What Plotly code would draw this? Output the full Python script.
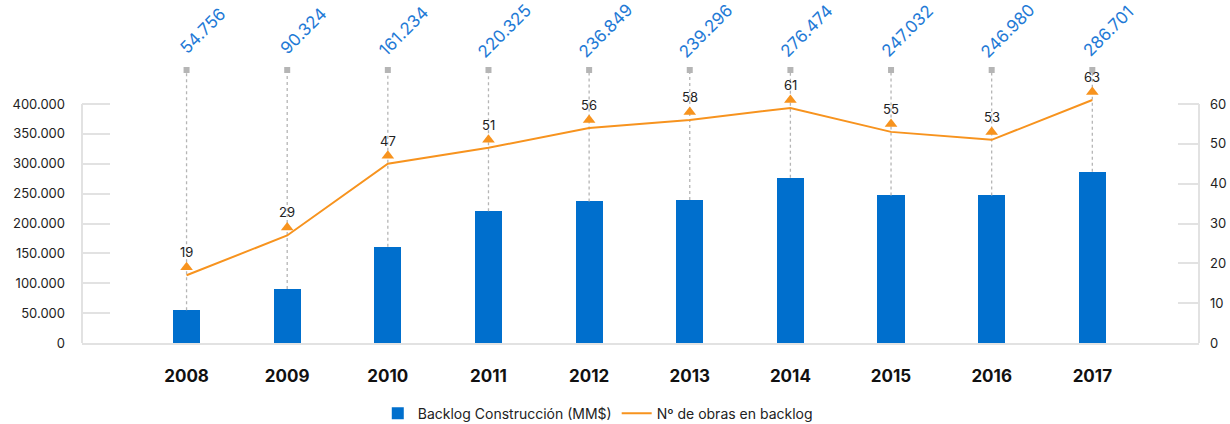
import plotly.graph_objects as go

# Data
years = ["2008", "2009", "2010", "2011", "2012", "2013", "2014", "2015", "2016", "2017"]
backlog = [54756, 90324, 161234, 220325, 236849, 239296, 276474, 247032, 246980, 286701]
obras = [19, 29, 47, 51, 56, 58, 61, 55, 53, 63]

left_ticks = [0, 50000, 100000, 150000, 200000, 250000, 300000, 350000, 400000]
right_ticks = [0, 10, 20, 30, 40, 50, 60]

# Styling
BLUE = "#006fcd"
LABEL_BLUE = "#1f7ad6"
ORANGE = "#f7931e"
GRID = "#e2e2e2"
DOT = "#b5b5b5"
FONT = "Inter"

# Plot area extends above the 400.000 gridline to hold the leader lines
TOP_PAD = 273 / 239
ymax_left = left_ticks[-1] * TOP_PAD
ymax_right = right_ticks[-1] * TOP_PAD
LINE_OFFSET = 2  # line sits slightly under its triangle markers

fmt = lambda v: f"{v:,}".replace(",", ".")

fig = go.Figure()

fig.add_trace(go.Bar(
    x=years, y=backlog, name="Backlog Construcción (MM$)",
    marker=dict(color=BLUE, line=dict(width=0)), width=0.27,
))

# dotted leader lines from each bar up to the value label
lx, ly = [], []
for yr, v in zip(years, backlog):
    lx += [yr, yr, None]
    ly += [v, ymax_left, None]
fig.add_trace(go.Scatter(
    x=lx, y=ly, mode="lines", showlegend=False, hoverinfo="skip",
    line=dict(color=DOT, width=1.3, dash="dot"),
))
fig.add_trace(go.Scatter(
    x=years, y=[ymax_left] * len(years), mode="markers", showlegend=False,
    hoverinfo="skip", cliponaxis=False,
    marker=dict(symbol="square", size=6, color=DOT),
))

fig.add_trace(go.Scatter(
    x=years, y=obras, name="Nº de obras en backlog", mode="lines",
    line=dict(color=ORANGE, width=2), yaxis="y3",
))
fig.add_trace(go.Scatter(
    x=years, y=obras, mode="markers", showlegend=False, yaxis="y2",
    marker=dict(symbol="triangle-up", size=11, color=ORANGE), cliponaxis=False,
))

# count labels just above each triangle
for i, o in enumerate(obras):
    fig.add_annotation(
        x=i, y=o, xref="x", yref="y2", text=str(o), showarrow=False,
        xanchor="center", yanchor="middle", yshift=15,
        font=dict(family=FONT, size=13, color="#222"),
    )

# rotated value labels; category axes take the category index here
for i, v in enumerate(backlog):
    fig.add_annotation(
        x=i, y=1, xref="x", yref="paper", text=fmt(v), showarrow=False,
        textangle=-45, xanchor="center", yanchor="middle",
        xshift=16, yshift=39,
        font=dict(family=FONT, size=17, color=LABEL_BLUE),
    )

# axis lines stop at the top gridline
fig.add_shape(type="line", xref="x domain", yref="y", x0=0, x1=0, y0=0,
              y1=left_ticks[-1], line=dict(color=GRID, width=2), layer="below")
fig.add_shape(type="line", xref="x domain", yref="y", x0=1, x1=1, y0=0,
              y1=left_ticks[-1], line=dict(color=GRID, width=2), layer="below")

fig.update_layout(
    width=1230, height=424,
    margin=dict(l=82, r=31, t=70, b=81, autoexpand=False),
    paper_bgcolor="white", plot_bgcolor="white",
    separators=",.",
    font=dict(family=FONT, color="#222"),
    bargap=0,
    xaxis=dict(
        type="category", range=[-1.039, 10.06], showgrid=False,
        showline=True, linecolor=GRID, linewidth=2, ticks="",
        tickfont=dict(family=FONT, size=17, color="#111", weight="bold"),
        ticklabelstandoff=17,
    ),
    yaxis=dict(
        range=[0, ymax_left], tickvals=left_ticks, tickformat=",d",
        showgrid=False, zeroline=False, showline=False,
        ticks="inside", ticklen=28, tickwidth=2, tickcolor=GRID,
        tickfont=dict(family=FONT, size=13, color="#222"),
        ticklabelstandoff=16,
    ),
    yaxis2=dict(
        overlaying="y", side="right", range=[0, ymax_right], tickvals=right_ticks,
        showgrid=False, zeroline=False, showline=False,
        ticks="inside", ticklen=21, tickwidth=2, tickcolor=GRID,
        tickfont=dict(family=FONT, size=13, color="#222"),
        ticklabelstandoff=10,
    ),
    yaxis3=dict(
        overlaying="y", range=[LINE_OFFSET, ymax_right + LINE_OFFSET],
        visible=False,
    ),
    legend=dict(
        orientation="h", xref="container", yref="paper",
        x=0.486, xanchor="center", y=-0.2, yanchor="top",
        font=dict(family=FONT, size=14, color="#222"),
        itemwidth=30, tracegroupgap=0,
    ),
    showlegend=True,
)

fig.write_html("out.html")
